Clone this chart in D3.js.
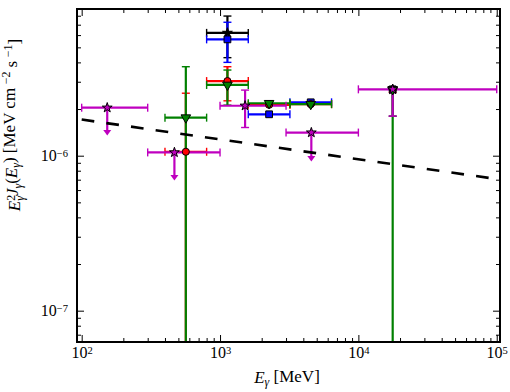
<!DOCTYPE html>
<html>
<head>
<meta charset="utf-8">
<script src="https://cdn.jsdelivr.net/npm/d3@7"></script>
<style>
  body { margin: 0; background: #fff; }
  svg text { font-family: "Liberation Serif", "Times New Roman", serif; fill: #000; }
</style>
</head>
<body>
<div id="chart"></div>
<script>
// ---- data ----
// black stars
var blackE   = [1131, 17700];
var blackElo = [800, null];
var blackEhi = [1600, null];
var blackF   = [6.2e-6, 2.68e-6];
var blackFlo = [4.29e-6, 1.80e-6];
var blackFhi = [7.96e-6, 2.68e-6];

// blue squares
var blueE   = [1131, 2263, 4525, 17700];
var blueElo = [800, 1600, 3200, null];
var blueEhi = [1600, 3200, 6400, null];
var blueF   = [5.63e-6, 1.85e-6, 2.21e-6, 2.68e-6];
var blueFlo = [4.0e-6, null, null, 2.65e-6];
var blueFhi = [7.26e-6, null, null, 2.70e-6];

// red circles
var redE   = [566, 1131, 2263, 4525, 17700];
var redElo = [400, 800, 1600, 3200, null];
var redEhi = [800, 1600, 3200, 6400, null];
var redF   = [1.06e-6, 3.03e-6, 2.13e-6, 2.15e-6, 2.68e-6];
var redFlo = [1e-9, 2.26e-6, null, null, 2.56e-6];
var redFhi = [2.53e-6, 3.75e-6, null, null, 2.72e-6];

// green down-triangles
var greenE   = [566, 1131, 2263, 4525, 17700];
var greenElo = [400, 800, 1600, 3200, null];
var greenEhi = [800, 1600, 3200, 6400, null];
var greenF   = [1.76e-6, 2.86e-6, 2.18e-6, 2.15e-6, 2.68e-6];
var greenFlo = [1e-9, 2.12e-6, null, null, 1e-9];
var greenFhi = [3.75e-6, 3.57e-6, null, null, 2.77e-6];

// magenta stars (some are upper limits)
var magE   = [153, 468, 1517, 4570, 17700];
var magElo = [100, 300, 1000, 3000, 10000];
var magEhi = [300, 1000, 3000, 10000, 100000];
var magF   = [2.04e-6, 1.05e-6, 2.10e-6, 1.41e-6, 2.68e-6];
var magFlo = [null, null, 1.52e-6, null, 1.80e-6];
var magFhi = [null, null, 2.65e-6, null, 2.68e-6];
var magUL  = [true, true, false, true, false];
var magArrowTo = [1.36e-6, 6.97e-7, null, 9.24e-7, null];

// dashed model line
var modelE = [100, 100000];
var modelF = [1.71e-6, 7.07e-7];

var xMajor = [1e2, 1e3, 1e4, 1e5];
var yMajor = [1e-7, 1e-6];

// ---- set-up ----
var W = 510, H = 392;
var m = {left: 77, right: 500, top: 9, bottom: 342};

var svg = d3.select('#chart').append('svg').attr('width', W).attr('height', H);

var x = d3.scaleLog().domain([92.5, 1.056e5]).range([m.left, m.right]);
var y = d3.scaleLog().domain([6.28e-8, 8.84e-6]).range([m.bottom, m.top]);

svg.append('defs').append('clipPath').attr('id', 'clip')
  .append('rect').attr('x', m.left).attr('y', m.top).attr('width', m.right - m.left).attr('height', m.bottom - m.top);

var plot = svg.append('g').attr('clip-path', 'url(#clip)');

function series(E, Elo, Ehi, F, Flo, Fhi, color, symbol, size, rotate) {
  return E.map(function(e, i) {
    return {E: e, Elo: Elo[i], Ehi: Ehi[i], F: F[i], Flo: Flo[i], Fhi: Fhi[i],
            color: color, symbol: symbol, size: size, rotate: rotate || 0};
  });
}

var all = [
  series(blackE, blackElo, blackEhi, blackF, blackFlo, blackFhi, '#000000', d3.symbolStar, 30),
  series(blueE, blueElo, blueEhi, blueF, blueFlo, blueFhi, '#0000ff', d3.symbolSquare, 46),
  series(redE, redElo, redEhi, redF, redFlo, redFhi, '#ff0000', d3.symbolCircle, 40),
  series(greenE, greenElo, greenEhi, greenF, greenFlo, greenFhi, '#008000', d3.symbolTriangle, 40, 180),
  series(magE, magElo, magEhi, magF, magFlo, magFhi, '#bf00bf', d3.symbolStar, 30)
];

var cap = 4;

// error bars
all.forEach(function(s) {
  var g = plot.append('g').attr('stroke', s[0].color).attr('fill', 'none');
  s.forEach(function(d) {
    var py = y(d.F), px = x(d.E);
    if (d.Elo != null) {
      g.append('line').attr('x1', x(d.Elo)).attr('x2', x(d.Ehi)).attr('y1', py).attr('y2', py).attr('stroke-width', 2.2);
      [d.Elo, d.Ehi].forEach(function(v) {
        g.append('line').attr('x1', x(v)).attr('x2', x(v)).attr('y1', py - cap).attr('y2', py + cap).attr('stroke-width', 1.4);
      });
    }
    if (d.Flo != null) {
      g.append('line').attr('x1', px).attr('x2', px).attr('y1', y(d.Flo)).attr('y2', y(d.Fhi)).attr('stroke-width', 2.2);
      [d.Flo, d.Fhi].forEach(function(v) {
        g.append('line').attr('x1', px - cap).attr('x2', px + cap).attr('y1', y(v)).attr('y2', y(v)).attr('stroke-width', 1.4);
      });
    }
  });
});

// upper-limit arrows
magE.forEach(function(e, i) {
  if (!magUL[i]) return;
  var px = x(e), y0 = y(magF[i]), y1 = y(magArrowTo[i]);
  plot.append('line').attr('x1', px).attr('x2', px).attr('y1', y0).attr('y2', y1 - 3)
    .attr('stroke', '#bf00bf').attr('stroke-width', 2.2);
  plot.append('path')
    .attr('d', 'M' + (px - 4) + ',' + (y1 - 5) + 'L' + (px + 4) + ',' + (y1 - 5) + 'L' + px + ',' + (y1 + 0.5) + 'Z')
    .attr('fill', '#bf00bf');
});

// model line
plot.append('path')
  .datum(modelE.map(function(e, i) { return [e, modelF[i]]; }))
  .attr('d', d3.line().x(function(d) { return x(d[0]); }).y(function(d) { return y(d[1]); }))
  .attr('fill', 'none').attr('stroke', '#000').attr('stroke-width', 2.6)
  .attr('stroke-dasharray', '12.7,12.2');

// markers
all.forEach(function(s) {
  plot.append('g').selectAll('path').data(s).enter().append('path')
    .attr('transform', function(d) { return 'translate(' + x(d.E) + ',' + y(d.F) + ') rotate(' + d.rotate + ')'; })
    .attr('d', function(d) { return d3.symbol().type(d.symbol).size(d.size)(); })
    .attr('fill', function(d) { return d.color; })
    .attr('stroke', '#000').attr('stroke-width', 1);
});

// ---- axes (ticks point inward) ----
function supLabel(sel, expo) {
  sel.each(function(d) {
    var t = d3.select(this);
    t.text(null);
    t.append('tspan').text('10');
    t.append('tspan').attr('dy', '-0.45em').attr('font-size', '0.66em').text(expo(d));
  });
}
function xMinor() { return x.ticks().filter(function(v) { return xMajor.indexOf(v) < 0; }); }
function yMinor() { return y.ticks().filter(function(v) { return yMajor.indexOf(v) < 0; }); }
var xExp = function(d) { return String(Math.round(Math.log10(d))); };
var yExp = function(d) { return '\u2212' + String(-Math.round(Math.log10(d))); };

var gxb = svg.append('g').attr('transform', 'translate(0,' + m.bottom + ')')
  .call(d3.axisBottom(x).tickValues(xMajor).tickSize(-7).tickPadding(5).tickFormat(function() { return ''; }));
gxb.selectAll('.tick text').attr('font-size', 16).call(supLabel, xExp);
svg.append('g').attr('transform', 'translate(0,' + m.bottom + ')')
  .call(d3.axisBottom(x).tickValues(xMinor()).tickSize(-4).tickFormat(''));
svg.append('g').attr('transform', 'translate(0,' + m.top + ')')
  .call(d3.axisTop(x).tickValues(xMajor).tickSize(-7).tickFormat(''));
svg.append('g').attr('transform', 'translate(0,' + m.top + ')')
  .call(d3.axisTop(x).tickValues(xMinor()).tickSize(-4).tickFormat(''));

var gyl = svg.append('g').attr('transform', 'translate(' + m.left + ',0)')
  .call(d3.axisLeft(y).tickValues(yMajor).tickSize(-7).tickPadding(9).tickFormat(function() { return ''; }));
gyl.selectAll('.tick text').attr('font-size', 16).call(supLabel, yExp);
svg.append('g').attr('transform', 'translate(' + m.left + ',0)')
  .call(d3.axisLeft(y).tickValues(yMinor()).tickSize(-4).tickFormat(''));
svg.append('g').attr('transform', 'translate(' + m.right + ',0)')
  .call(d3.axisRight(y).tickValues(yMajor).tickSize(-7).tickFormat(''));
svg.append('g').attr('transform', 'translate(' + m.right + ',0)')
  .call(d3.axisRight(y).tickValues(yMinor()).tickSize(-4).tickFormat(''));

svg.selectAll('.domain').remove();
svg.selectAll('.tick line').attr('stroke', '#000').attr('stroke-width', 1);

// frame
svg.append('rect').attr('x', m.left).attr('y', m.top).attr('width', m.right - m.left).attr('height', m.bottom - m.top)
  .attr('fill', 'none').attr('stroke', '#000').attr('stroke-width', 2);

// axis titles
var xl = svg.append('text').attr('x', 287).attr('y', 383).attr('text-anchor', 'middle').attr('font-size', 17);
xl.append('tspan').attr('font-style', 'italic').text('E');
xl.append('tspan').attr('font-style', 'italic').attr('font-size', '0.7em').attr('dy', '0.25em').text('\u03b3');
xl.append('tspan').attr('dy', '-0.25em').text(' [MeV]');

var yl = svg.append('text').attr('transform', 'translate(20,125) rotate(-90)').attr('text-anchor', 'middle').attr('font-size', 17);
yl.append('tspan').attr('font-style', 'italic').text('E');
yl.append('tspan').attr('font-size', '0.7em').attr('dy', '-0.45em').text('2');
yl.append('tspan').attr('font-style', 'italic').attr('font-size', '0.7em').attr('dx', '-0.5em').attr('dy', '0.8em').text('\u03b3');
yl.append('tspan').attr('font-style', 'italic').attr('dy', '-0.35em').text('J');
yl.append('tspan').attr('font-style', 'italic').attr('font-size', '0.7em').attr('dy', '0.3em').text('\u03b3');
yl.append('tspan').attr('dy', '-0.3em').text('(');
yl.append('tspan').attr('font-style', 'italic').text('E');
yl.append('tspan').attr('font-style', 'italic').attr('font-size', '0.7em').attr('dy', '0.3em').text('\u03b3');
yl.append('tspan').attr('dy', '-0.3em').text(') [MeV cm');
yl.append('tspan').attr('font-size', '0.7em').attr('dx', '0.3em').attr('dy', '-0.45em').text('\u22122');
yl.append('tspan').attr('dy', '0.45em').text(' s');
yl.append('tspan').attr('font-size', '0.7em').attr('dx', '0.3em').attr('dy', '-0.45em').text('\u22121');
yl.append('tspan').attr('dy', '0.45em').text(']');
</script>
</body>
</html>
